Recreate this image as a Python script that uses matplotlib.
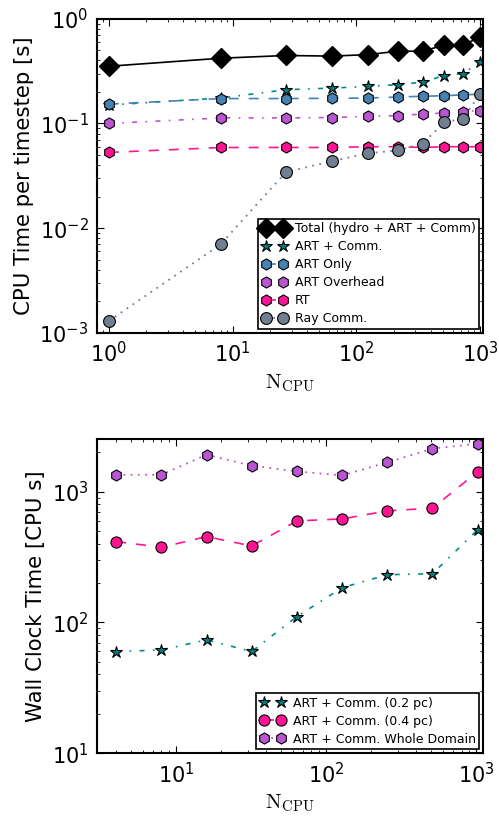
import numpy as np
import matplotlib
matplotlib.use('Agg')
import matplotlib.pyplot as plt

plt.rcParams['mathtext.fontset'] = 'cm'
plt.rcParams['xtick.direction'] = 'in'
plt.rcParams['ytick.direction'] = 'in'
plt.rcParams['xtick.top'] = True
plt.rcParams['ytick.right'] = True
plt.rcParams['xtick.major.size'] = 5
plt.rcParams['ytick.major.size'] = 5
plt.rcParams['xtick.minor.size'] = 2.5
plt.rcParams['ytick.minor.size'] = 2.5
plt.rcParams['axes.linewidth'] = 1.5

# top panel: CPU time per timestep
ncpu = [1, 8, 27, 64, 125, 216, 343, 512, 729, 1000]
total = [0.352, 0.42, 0.446, 0.44, 0.455, 0.49, 0.49, 0.56, 0.56, 0.67]
art_comm = [0.15, 0.175, 0.21, 0.218, 0.226, 0.235, 0.248, 0.287, 0.30, 0.385]
art_only = [0.153, 0.173, 0.173, 0.174, 0.175, 0.179, 0.182, 0.184, 0.188, 0.19]
art_over = [0.1, 0.113, 0.113, 0.114, 0.117, 0.119, 0.123, 0.126, 0.13, 0.133]
rt = [0.0529, 0.059, 0.059, 0.059, 0.06, 0.06, 0.059, 0.06, 0.06, 0.06]
ray_comm = [0.0013, 0.0070, 0.0343, 0.0437, 0.052, 0.0553, 0.064, 0.1025, 0.111, 0.193]

# bottom panel: wall clock time
ncpu2 = [4, 8, 16, 32, 64, 128, 256, 512, 1024]
wc_02 = [59.9, 61.6, 73.6, 60, 111, 184.6, 232, 236, 513]
wc_04 = [416, 376, 454, 385, 599, 620, 715, 750, 1423]
wc_whole = [1350, 1350, 1923, 1584, 1432, 1335, 1679, 2140, 2335]

DASH = (6, 6)
DASHDOT = (3, 5, 1, 5)
DOT = (1, 3)

fig = plt.figure(figsize=(4.99, 8.16), dpi=100)

ax1 = fig.add_axes([0.194, 0.592, 0.774, 0.385])
ax1.plot(ncpu, total, 'k-', marker='D', ms=10, mec='k', lw=1.2, label='Total (hydro + ART + Comm)')
ax1.plot(ncpu, art_comm, color='darkcyan', dashes=DASHDOT, marker='*', ms=9, mfc='teal', mec='k', mew=0.8, lw=1.2, label='ART + Comm.')
ax1.plot(ncpu, art_only, color='steelblue', dashes=DASH, marker='h', ms=8, mfc='steelblue', mec='k', mew=0.8, lw=1.2, label='ART Only')
ax1.plot(ncpu, art_over, color='mediumorchid', dashes=DASHDOT, marker='h', ms=8, mfc='mediumorchid', mec='k', mew=0.8, lw=1.2, label='ART Overhead')
ax1.plot(ncpu, rt, color='deeppink', dashes=DASH, marker='h', ms=8, mfc='deeppink', mec='k', mew=0.8, lw=1.2, label='RT')
ax1.plot(ncpu, ray_comm, color='slategray', dashes=DOT, marker='o', ms=8.5, mfc='slategray', mec='k', mew=0.8, lw=1.3, label='Ray Comm.')
ax1.set_xscale('log')
ax1.set_yscale('log')
ax1.set_xlim(0.8, 1057)
ax1.set_ylim(1e-3, 1)
ax1.tick_params(labelsize=15, pad=6)
ax1.set_ylabel('CPU Time per timestep [s]', fontsize=15.3)
ax1.set_xlabel(r'$\mathrm{N_{CPU}}$', fontsize=15)
leg = ax1.legend(loc='lower right', numpoints=2, fontsize=9, fancybox=False,
                 framealpha=1, edgecolor='k', borderaxespad=0.3, handlelength=2,
                 handletextpad=0.6, labelspacing=0.4, borderpad=0.3)
leg.get_frame().set_linewidth(1.2)

ax2 = fig.add_axes([0.194, 0.077, 0.774, 0.385])
ax2.plot(ncpu2, wc_02, color='darkcyan', dashes=DASHDOT, marker='*', ms=9, mfc='teal', mec='k', mew=0.8, lw=1.2, label='ART + Comm. (0.2 pc)')
ax2.plot(ncpu2, wc_04, color='deeppink', dashes=DASH, marker='o', ms=8, mfc='deeppink', mec='k', mew=0.8, lw=1.2, label='ART + Comm. (0.4 pc)')
ax2.plot(ncpu2, wc_whole, color='mediumorchid', dashes=DOT, marker='h', ms=8, mfc='mediumorchid', mec='k', mew=0.8, lw=1.3, label='ART + Comm. Whole Domain')
ax2.set_xscale('log')
ax2.set_yscale('log')
ax2.set_xlim(2.97, 1112)
ax2.set_ylim(10, 2535)
ax2.tick_params(labelsize=15, pad=6)
ax2.set_ylabel('Wall Clock Time [CPU s]', fontsize=15.3)
ax2.set_xlabel(r'$\mathrm{N_{CPU}}$', fontsize=15)
leg2 = ax2.legend(loc='lower right', numpoints=2, fontsize=9, fancybox=False,
                  framealpha=1, edgecolor='k', borderaxespad=0.3, handlelength=2,
                  handletextpad=0.6, labelspacing=0.4, borderpad=0.3)
leg2.get_frame().set_linewidth(1.2)

plt.savefig('out.png', dpi=100)
plt.close()
